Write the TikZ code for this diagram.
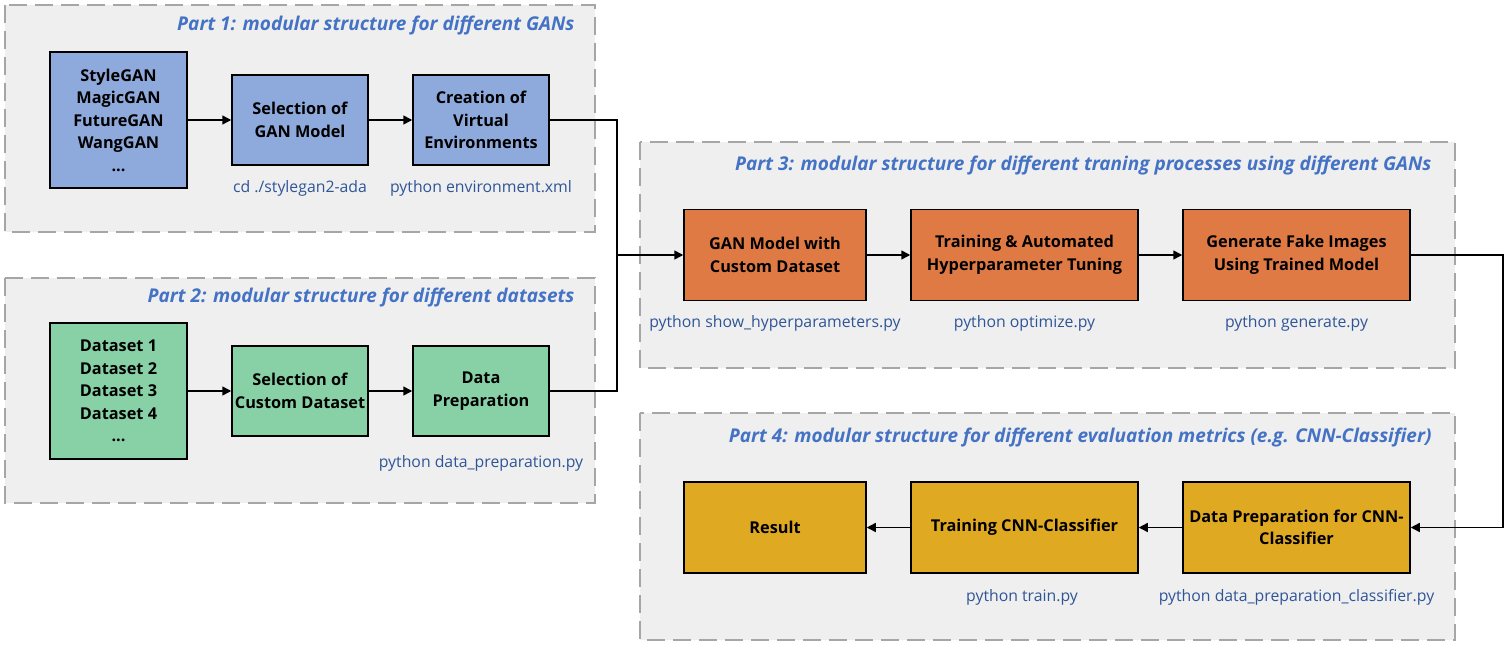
\documentclass[tikz,border=0pt]{standalone}
\usepackage{fontspec}
\setmainfont{Open Sans}
\usetikzlibrary{arrows.meta}

\definecolor{ganblue}{RGB}{142,169,219}
\definecolor{datagreen}{RGB}{136,209,166}
\definecolor{trainorange}{RGB}{224,122,69}
\definecolor{evalgold}{RGB}{224,169,34}
\definecolor{titleblue}{RGB}{68,114,196}
\definecolor{cmdblue}{RGB}{47,85,151}
\definecolor{partgray}{RGB}{239,239,239}

\begin{document}
\begin{tikzpicture}[x=1pt,y=-1pt,
    part/.style={fill=partgray, draw=gray!70, line width=2pt, dash pattern=on 18pt off 8pt},
    box/.style={draw, line width=1.5pt, align=center, inner sep=2pt,
        font=\fontsize{16.3}{22.5}\selectfont\bfseries},
    small/.style={box, minimum width=136pt, minimum height=90pt},
    list/.style={box, minimum width=137pt, minimum height=136pt},
    wide/.style={box, minimum width=227pt, minimum height=91pt},
    mid/.style={box, minimum width=182pt, minimum height=91pt},
    cmd/.style={text=cmdblue, font=\fontsize{15.8}{18}\selectfont},
    parttitle/.style={anchor=east, text=titleblue, font=\fontsize{19}{22}\selectfont\bfseries\itshape},
    link/.style={line width=1.5pt},
    arrow/.style={link, -{Triangle[length=9pt,width=9pt]}}]
        \useasboundingbox (0,0) rectangle (1509,650);

        % the four parts
        \draw[part] (5,5) rectangle (595,232);
        \draw[part] (5,278) rectangle (595,503);
        \draw[part] (640,142) rectangle (1455,368);
        \draw[part] (640,413) rectangle (1455,640);

        \node[parttitle] (title1) at (578,26) {Part 1: modular structure for different GANs};
        \node[parttitle] (title2) at (578,298) {Part 2: modular structure for different datasets};
        \node[parttitle] (title3) at (1435,166) {Part 3: modular structure for different traning processes using different GANs};
        \node[parttitle] (title4) at (1435,438) {Part 4: modular structure for different evaluation metrics (e.g. CNN-Classifier)};

        % Part 1
        \node[list, fill=ganblue] (gans) at (118.5,120) {StyleGAN\\MagicGAN\\FutureGAN\\WangGAN\\...};
        \node[small, fill=ganblue] (selgan) at (300,120) {Selection of\\GAN Model};
        \node[small, fill=ganblue] (envs) at (481,120) {Creation of\\Virtual\\Environments};
        \node[cmd] (cmdsel) at (300,188) {cd ./stylegan2-ada};
        \node[cmd] (cmdenv) at (481,188) {python environment.xml};

        % Part 2
        \node[list, fill=datagreen] (sets) at (118.5,391) {Dataset 1\\Dataset 2\\Dataset 3\\Dataset 4\\...};
        \node[small, fill=datagreen] (selset) at (300,391) {Selection of\\Custom Dataset};
        \node[small, fill=datagreen] (prep) at (481,391) {Data\\Preparation};
        \node[cmd] (cmdprep) at (481,463) {python data\_preparation.py};

        % Part 3
        \node[mid, fill=trainorange] (ganmodel) at (775,255) {GAN Model with\\Custom Dataset};
        \node[wide, fill=trainorange] (tuning) at (1024.5,255) {Training \& Automated\\Hyperparameter Tuning};
        \node[wide, fill=trainorange] (fake) at (1296.5,255) {Generate Fake Images\\Using Trained Model};
        \node[cmd] (cmdhyper) at (775,323) {python show\_hyperparameters.py};
        \node[cmd] (cmdopt) at (1024.5,323) {python optimize.py};
        \node[cmd] (cmdgen) at (1296.5,323) {python generate.py};

        % Part 4
        \node[mid, fill=evalgold] (result) at (775,527.5) {Result};
        \node[wide, fill=evalgold] (train) at (1024.5,527.5) {Training CNN-Classifier};
        \node[wide, fill=evalgold] (cnnprep) at (1296.5,527.5) {Data Preparation for CNN-\\Classifier};
        \node[cmd] (cmdtrain) at (1022,597) {python train.py};
        \node[cmd] (cmdclass) at (1296.5,597) {python data\_preparation\_classifier.py};

        % connectors
        \coordinate (join) at (617,255);
        \draw[arrow] (gans) -- (selgan);
        \draw[arrow] (selgan) -- (envs);
        \draw[arrow] (sets) -- (selset);
        \draw[arrow] (selset) -- (prep);
        \draw[link] (envs.east) -| (join);
        \draw[link] (prep.east) -| (join);
        \draw[arrow] (join) -- (ganmodel.west);
        \draw[arrow] (ganmodel) -- (tuning);
        \draw[arrow] (tuning) -- (fake);
        \draw[arrow] (fake.east) -- ++(92,0) |- (cnnprep.east);
        \draw[arrow] (cnnprep) -- (train);
        \draw[arrow] (train) -- (result);
    \end{tikzpicture}
\end{document}
